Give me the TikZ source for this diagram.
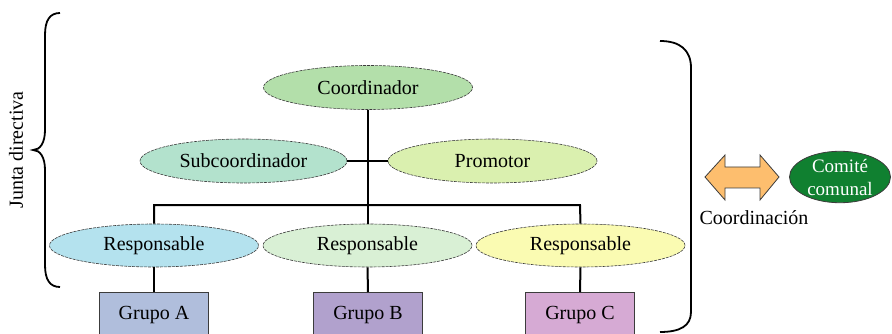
\documentclass[tikz,border=0pt]{standalone}
\usepackage{fontspec}
\setmainfont{Liberation Serif}
\usetikzlibrary{shapes.geometric}
\definecolor{cCoord}{RGB}{179,223,170}
\definecolor{cSub}{RGB}{179,226,205}
\definecolor{cProm}{RGB}{218,240,175}
\definecolor{cRa}{RGB}{180,226,238}
\definecolor{cRb}{RGB}{217,240,213}
\definecolor{cRc}{RGB}{250,251,178}
\definecolor{cGa}{RGB}{176,190,220}
\definecolor{cGb}{RGB}{177,161,205}
\definecolor{cGc}{RGB}{214,170,212}
\definecolor{cArrow}{RGB}{253,190,110}
\definecolor{cComite}{RGB}{16,128,48}
\definecolor{cEdge}{RGB}{60,60,60}
\tikzset{
  oval/.style={ellipse, draw=cEdge, line width=0.6pt, dash pattern=on 3pt off 1pt, inner sep=0pt,
    minimum width=209pt, minimum height=44pt, font=\fontsize{20}{24}\selectfont},
  grpbox/.style={rectangle, draw=cEdge, line width=0.8pt, inner sep=0pt,
    minimum width=109pt, minimum height=50pt, font=\fontsize{20}{24}\selectfont},
  conn/.style={line width=2pt, black},
  lbl/.style={font=\fontsize{20}{24}\selectfont, inner sep=0pt},
}
\begin{document}
\begin{tikzpicture}[x=1pt,y=-1pt]
\useasboundingbox (0,0) rectangle (892,334);
\clip (0,0) rectangle (892,334);
% groups (behind)
\node[grpbox, fill=cGa, anchor=north] (ga) at (154,292) {};
\node[grpbox, fill=cGb, anchor=north] (gb) at (368,292) {};
\node[grpbox, fill=cGc, anchor=north] (gc) at (580,292) {};
\node[lbl] (ta) at (154,315) {Grupo A};
\node[lbl] (tb) at (368,315) {Grupo B};
\node[lbl] (tc) at (580,315) {Grupo C};
% ellipses
\node[oval, fill=cCoord] (coord) at (368,87.5) {Coordinador};
\node[oval, fill=cSub, minimum width=207pt] (sub) at (243.5,161) {Subcoordinador};
\node[oval, fill=cProm] (prom) at (492.5,161) {Promotor};
\node[oval, fill=cRa, minimum height=43pt] (ra) at (154,245.5) {Responsable};
\node[oval, fill=cRb, minimum height=43pt] (rb) at (367.5,245.5) {Responsable};
\node[oval, fill=cRc, minimum height=43pt] (rc) at (580.5,245.5) {Responsable};
% connectors
\coordinate (barL) at (154,205);
\coordinate (barR) at (580,205);
\draw[conn] (sub.east) -- (prom.west);
\draw[conn] (coord.south) -- (coord.south |- rb.north);
\draw[conn] (ra.north) -- (barL) -- (barR) -- (rc.north);
\draw[conn] (ra.south) -- (ga.north);
\draw[conn] (rb.south) -- (gb.north);
\draw[conn] (rc.south) -- (gc.north);
% left brace
\draw[line width=1.8pt] (60,13) .. controls (50,13) and (45,20) .. (45,35) -- (45,130)
  .. controls (45,143) and (40,150) .. (33,150) .. controls (40,150) and (45,157) .. (45,170)
  -- (45,265) .. controls (45,280) and (50,287) .. (60,287);
\node[lbl, rotate=90] (junta) at (16,150) {Junta directiva};
% right bracket
\draw[line width=1.8pt] (660,41) .. controls (680,41) and (691,50) .. (691,68) -- (691,312)
  .. controls (691,326) and (680,332) .. (660,332);
% double arrow
\draw[fill=cArrow, draw=cEdge, line width=0.8pt] (705,177) -- (725,155) -- (725,167) -- (760,167)
  -- (760,155) -- (779,177) -- (760,200) -- (760,188) -- (725,188) -- (725,200) -- cycle;
\node[lbl] (coordlbl) at (754,218) {Coordinación};
\node[ellipse, draw=cEdge, line width=0.8pt, fill=cComite, inner sep=0pt, minimum width=101pt,
  minimum height=49pt, text=white, align=center, font=\fontsize{19}{23}\selectfont] (comite) at (840,177) {Comité\\comunal};
\end{tikzpicture}
\end{document}
